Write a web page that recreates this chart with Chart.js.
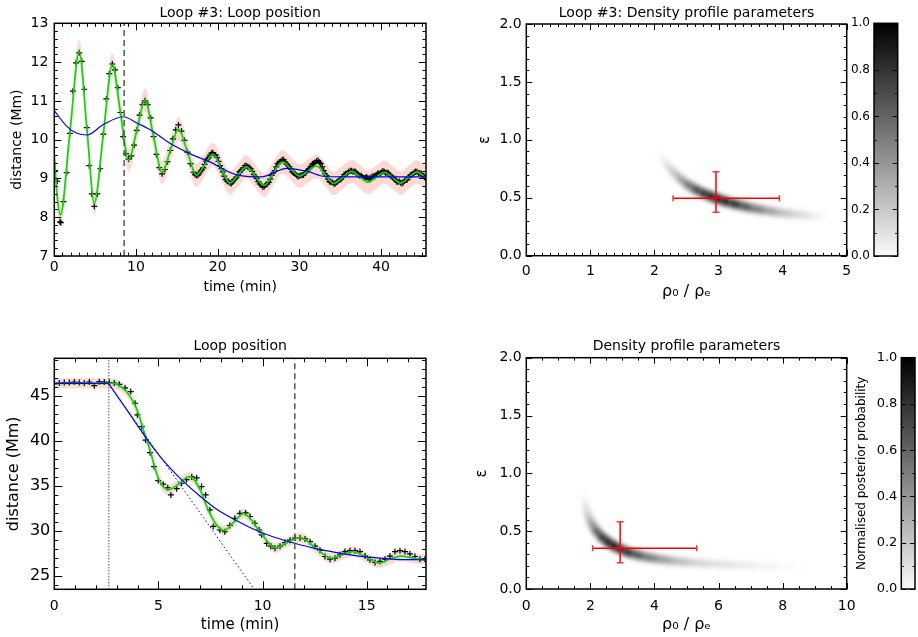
<!DOCTYPE html>
<html>
<head>
<meta charset="utf-8">
<script src="https://cdn.jsdelivr.net/npm/chart.js@4.4.0/dist/chart.umd.min.js"></script>
<style>
  body { margin: 0; background: #fff; width: 918px; height: 637px; position: relative; overflow: hidden; }
  canvas { position: absolute; }
</style>
</head>
<body>
<canvas id="c1" width="459" height="318" style="left:0;top:0"></canvas>
<canvas id="c2" width="459" height="318" style="left:459px;top:0"></canvas>
<canvas id="c3" width="459" height="319" style="left:0;top:318px"></canvas>
<canvas id="c4" width="459" height="319" style="left:459px;top:318px"></canvas>
<canvas id="cb1" width="88" height="318" style="left:830px;top:0"></canvas>
<canvas id="cb2" width="88" height="319" style="left:830px;top:318px"></canvas>
<script>
// ---- Loop #3 position (top left) ----
const loopT1 = [0.1,0.35,0.7,0.8, 1.13,1.52,1.9,2.28,2.67, 3.05,3.36,3.67,3.98,4.28,4.59, 4.9,5.27,5.63,6.0,6.37,6.73,
  7.1,7.43,7.77,8.1,8.43,8.77, 9.1,9.43,9.77,10.1,10.43,10.77, 11.1,11.45,11.8,12.15,12.5,12.85, 13.2,13.53,13.87,14.2,14.53,14.87,
  15.2,15.57,15.93,16.3,16.67,17.03, 17.4,17.73,18.07,18.4,18.73,19.07, 19.4,19.75,20.1,20.45,20.8,21.15, 21.5,21.83,22.17,22.5,22.83,23.17,
  23.5,23.87,24.23,24.6,24.97,25.33, 25.7,26.07,26.43,26.8,27.17,27.53, 27.9,28.25,28.6,28.95,29.3,29.65, 30.0,30.35,30.7,31.05,31.4,31.75,
  32.1,32.45,32.8,33.15,33.5,33.85, 34.2,34.57,34.93,35.3,35.67,36.03, 36.4,36.73,37.07,37.4,37.73,38.07, 38.4,38.73,39.07,39.4,39.73,40.07,
  40.4,40.73,41.07,41.4,41.73,42.07, 42.4,42.73,43.07,43.4,43.73,44.07, 44.4,44.77,45.13,45.45];
const loopD1 = [9.2,8.93,7.88,7.86, 8.4,9.15,10.16,11.25,11.98, 12.24,12.02,11.3,10.31,9.33,8.6, 8.28,8.6,9.25,10.14,11.05,11.7,
  11.95,11.8,11.34,10.7,10.08,9.64, 9.5,9.58,9.86,10.24,10.63,10.9, 11.0,10.9,10.56,10.08,9.62,9.28, 9.12,9.23,9.43,9.72,10.02,10.25,
  10.38,10.22,9.98,9.68,9.38,9.16, 9.08,9.12,9.22,9.36,9.5,9.6, 9.66,9.6,9.44,9.25,9.06,8.93, 8.88,8.91,8.99,9.1,9.2,9.28,
  9.33,9.28,9.18,9.05,8.92,8.83, 8.79,8.86,8.98,9.14,9.3,9.42, 9.48,9.43,9.34,9.24,9.14,9.08, 9.06,9.08,9.14,9.22,9.31,9.39,
  9.45,9.42,9.3,9.12,8.98,8.9, 8.87,8.9,8.96,9.04,9.12,9.17, 9.2,9.18,9.13,9.07,9.04,9.02, 9.01,9.02,9.05,9.09,9.13,9.16,
  9.17,9.15,9.1,9.03,8.96,8.91, 8.89,8.9,8.96,9.03,9.1,9.15, 9.17,9.14,9.07,9.01];
// denser sampling of the late, small-amplitude part
const loopT1b = [17.22,17.57,17.9,18.24,18.57,18.9,19.24,19.58,19.93,20.28,20.63,20.98,21.33,21.67,22.0,22.33,22.67,23.0,23.33,23.68,
  24.05,24.42,24.78,25.15,25.52,25.88,26.25,26.62,26.98,27.35,27.72,28.08,28.42,28.78,29.12,29.48,29.82,30.18,30.52,30.88,
  31.22,31.58,31.92,32.28,32.62,32.98,33.32,33.68,34.02,34.38,34.75,35.12,35.48,35.85,36.22,36.57,36.9,37.23,37.57,37.9,
  38.23,38.57,38.9,39.23,39.57,39.9,40.23,40.57,40.9,41.23,41.57,41.9,42.23,42.57,42.9,43.23,43.57,43.9,44.23,44.58,44.95,45.3];
const loopD1b = [9.1,9.08,9.19,9.27,9.45,9.53,9.65,9.61,9.54,9.33,9.17,8.97,8.92,8.87,8.97,9.03,9.17,9.22,9.33,9.3,
  9.25,9.1,9.0,8.86,8.78,8.84,8.9,9.08,9.2,9.38,9.44,9.48,9.37,9.3,9.17,9.12,9.05,9.08,9.09,9.19,
  9.25,9.37,9.41,9.46,9.38,9.2,9.07,8.92,8.9,8.86,8.94,8.98,9.1,9.13,9.2,9.17,9.17,9.09,9.07,9.01,
  9.04,8.99,9.05,9.05,9.13,9.13,9.19,9.14,9.14,9.05,9.01,8.92,8.92,8.87,8.95,8.97,9.08,9.11,9.18,9.14,9.12,9.03];
const fitT1 = [0,0.35,0.75,1.9,3.05,3.98,4.9,6.0,7.1,8.1,9.1,10.1,11.1,12.15,13.2,14.2,15.2,16.3,17.4,18.4,19.4,20.45,21.5,22.5,
  23.5,24.6,25.7,26.8,27.9,28.95,30.0,31.05,32.1,33.15,34.2,35.3,36.4,37.4,38.4,39.4,40.4,41.4,42.4,43.4,44.4,45.5];
const fitD1 = [9.6,8.55,8.06,10.16,12.27,10.31,8.36,10.14,11.93,10.7,9.47,10.24,11.02,10.08,9.15,9.72,10.28,9.68,9.08,9.35,9.62,9.25,8.88,9.09,
  9.3,9.06,8.82,9.13,9.43,9.25,9.06,9.19,9.32,9.1,8.87,9.03,9.18,9.04,8.9,9.03,9.16,9.02,8.88,9.03,9.17,9.0];
const bandHalf1 = 0.3;
const trendT1 = [0,1.5,2.7,4.0,6.0,8.45,10.1,11.7,14.2,16.6,19.1,22.2,25.3,28.5,31.0,33.1,36.0,45.5];
const trendD1 = [10.75,10.35,10.17,10.12,10.39,10.59,10.43,10.26,9.9,9.64,9.42,9.1,9.04,9.26,9.18,9.05,9.04,9.04];
const cutT1 = [8.55, 8.55];
const cutD1 = [7, 13];

// ---- Loop position (bottom left) ----
const loopT3 = [0.0,0.24,0.48,0.72,0.96,1.2,1.44,1.68,1.92,2.16,2.4,2.64,2.88,3.12,3.4,3.67,3.88,3.99,4.2,4.38,4.6,4.79,4.99,5.23,5.45,
  5.6,5.88,6.11,6.35,6.6,6.84,7.07,7.27,7.47,7.63,7.95,8.19,8.43,8.67,8.91,9.19,9.4,9.63,9.84,9.96,10.2,10.4,10.6,10.84,11.08,
  11.32,11.56,11.8,12.04,12.28,12.52,12.76,13.0,13.24,13.48,13.72,13.96,14.2,14.44,14.68,14.92,15.16,15.4,15.64,15.88,16.12,16.36,
  16.6,16.84,17.08,17.32,17.56,17.8];
const loopD3 = [46.35,46.45,46.5,46.5,46.55,46.5,46.45,46.55,46.15,46.6,46.55,46.5,46.45,46.3,45.9,45.5,44.2,42.9,41.6,40.1,38.7,37.15,35.6,35.2,34.8,
  34.0,34.7,35.3,35.7,36.0,35.9,34.93,34.0,32.33,30.5,30.1,29.9,30.6,31.4,31.95,32.0,31.6,30.85,30.1,29.56,28.6,28.3,28.07,28.3,28.7,
  28.96,29.2,29.2,29.1,28.8,28.3,27.85,27.15,26.85,26.96,27.33,27.7,27.8,27.8,27.7,27.2,26.78,26.48,26.6,26.85,27.2,27.7,
  27.8,27.7,27.45,27.15,26.85,26.85];
const fitT3 = [0,1.5,2.8,3.0,3.47,3.95,4.35,4.6,4.83,5.07,5.47,5.9,6.5,7.0,7.39,7.79,8.15,8.62,9.1,9.85,10.6,11.2,11.8,12.55,13.3,13.8,
  14.35,14.95,15.6,16.1,16.65,17.25,17.85];
const fitD3 = [46.4,46.42,46.4,46.3,45.5,43.6,40.7,39.0,37.0,35.5,34.55,35.1,36.05,34.6,32.33,30.67,30.05,30.98,31.92,30.0,28.1,28.75,29.25,28.1,26.95,27.35,
  27.7,27.1,26.42,26.85,27.2,26.95,26.78];
const bandHalf3 = 0.55;
const flatT3 = [0, 2.6];
const flatD3 = [46.4, 46.4];
const trendT3 = [2.6,3.5,4.3,4.8,5.4,6.2,7.0,7.8,8.9,9.6,10.5,11.5,12.5,13.5,14.3,15.1,16.4,17.85];
const trendD3 = [46.4,43.4,40.7,39.1,37.4,35.5,33.85,32.4,30.95,30.15,29.35,28.65,28.05,27.6,27.3,27.07,26.84,26.78];
const slopeT3 = [2.6, 9.6];
const slopeD3 = [46.4, 23.5];
const startT3 = [2.62, 2.62];
const cutT3 = [11.55, 11.55];
const spanD3 = [23.5, 49.2];

// ---- Density profile parameters (right) ----
const arcRho1 = [2.06,2.15,2.24,2.35,2.45,2.58,2.71,2.82,2.92,3.05,3.18,3.36,3.54,3.75,3.96,4.22,4.48,4.72];
const arcEps1 = [0.9,0.825,0.754,0.694,0.639,0.593,0.552,0.526,0.504,0.479,0.457,0.432,0.409,0.389,0.371,0.356,0.343,0.33];
const arcW1 = [0,0.05,0.12,0.22,0.35,0.55,0.75,0.9,1.0,0.95,0.85,0.68,0.5,0.35,0.22,0.13,0.06,0];
const errRho1 = [2.29, 2.96, 3.95];
const errEps1 = [0.375, 0.495, 0.725];
const arcRho2 = [1.73,1.8,1.88,1.97,2.09,2.26,2.46,2.63,2.82,3.05,3.34,3.7,4.17,4.65,5.21,5.85,6.57,7.3,8.0,8.75];
const arcEps2 = [0.856,0.765,0.683,0.607,0.539,0.476,0.424,0.389,0.36,0.33,0.303,0.279,0.257,0.241,0.227,0.216,0.207,0.2,0.195,0.19];
const arcW2 = [0,0.04,0.1,0.22,0.4,0.65,0.88,0.97,1.0,0.88,0.7,0.5,0.35,0.24,0.15,0.1,0.07,0.04,0.02,0];
const errRho2 = [2.07, 2.93, 5.32];
const errEps2 = [0.227, 0.352, 0.582];
const cbRange = [0, 1];

const pts = (xs, ys) => xs.map((x, i) => ({x, y: ys[i]}));

Chart.defaults.font.family = 'DejaVu Sans';
Chart.defaults.color = '#000';

// IDL style box with inward ticks on all four sides
const idlAxes = {
  id: 'idlAxes',
  afterDatasetsDraw(chart, args, o) {
    const {ctx, chartArea: a} = chart;
    ctx.save();
    ctx.strokeStyle = '#000';
    ctx.lineWidth = 1;
    ['x', 'y'].forEach(id => {
      const t = o[id];
      if (!t) return;
      const s = chart.scales[id];
      const k0 = Math.ceil(s.min / t.minor - 1e-6), k1 = Math.floor(s.max / t.minor + 1e-6);
      for (let k = k0; k <= k1; k++) {
        const v = k * t.minor;
        const r = v / t.major;
        const len = Math.abs(r - Math.round(r)) < 1e-6 ? t.len : t.len / 2;
        const p = Math.round(s.getPixelForValue(v)) + 0.5;
        ctx.beginPath();
        if (id === 'x') {
          ctx.moveTo(p, a.bottom); ctx.lineTo(p, a.bottom - len);
          ctx.moveTo(p, a.top); ctx.lineTo(p, a.top + len);
        } else {
          ctx.moveTo(a.left, p); ctx.lineTo(a.left + len, p);
          ctx.moveTo(a.right, p); ctx.lineTo(a.right - len, p);
        }
        ctx.stroke();
      }
    });
    ctx.lineWidth = 1.5;
    ctx.strokeRect(a.left, a.top, a.right - a.left, a.bottom - a.top);
    ctx.restore();
  }
};

// blurred posterior ridge, each piece shaded along its own direction
const heatArc = {
  id: 'heatArc',
  beforeDatasetsDraw(chart, args, o) {
    if (!o.rho) return;
    const {ctx, chartArea: a} = chart;
    const sx = chart.scales.x, sy = chart.scales.y;
    const px = o.rho.map(v => sx.getPixelForValue(v));
    const py = o.eps.map(v => sy.getPixelForValue(v));
    ctx.save();
    ctx.beginPath();
    ctx.rect(a.left, a.top, a.right - a.left, a.bottom - a.top);
    ctx.clip();
    ctx.filter = 'blur(' + o.blur + 'px)';
    ctx.lineCap = 'butt';
    [[1, 0.55], [0.45, 0.95]].forEach(([wf, af]) => {
      for (let i = 0; i < px.length - 1; i++) {
        const g = ctx.createLinearGradient(px[i], py[i], px[i + 1], py[i + 1]);
        g.addColorStop(0, 'rgba(0,0,0,' + Math.min(1, o.w[i] * af) + ')');
        g.addColorStop(1, 'rgba(0,0,0,' + Math.min(1, o.w[i + 1] * af) + ')');
        ctx.beginPath();
        ctx.moveTo(px[i], py[i]);
        ctx.lineTo(px[i + 1], py[i + 1]);
        ctx.lineWidth = o.width * wf;
        ctx.strokeStyle = g;
        ctx.stroke();
      }
    });
    ctx.restore();
  }
};

Chart.register(idlAxes, heatArc);

function axis(o) {
  return {
    type: 'linear', min: o.min, max: o.max,
    grid: {display: false, drawTicks: false},
    border: {display: false},
    ticks: {
      stepSize: o.step, includeBounds: false, autoSkip: false, maxRotation: 0,
      padding: o.pad, color: '#000', font: {size: o.size},
      callback: o.fmt || (v => String(v))
    },
    title: o.title ? {display: true, text: o.title, color: '#000', font: {size: o.tsize}, padding: o.tpad} : {display: false},
    afterFit(s) {
      if (o.w != null) s.width = o.w;
      if (o.h != null) s.height = o.h;
    }
  };
}

function options(o) {
  return {
    responsive: false, animation: false, devicePixelRatio: 1,
    layout: {padding: {left: 0, top: o.top || 0, right: o.right, bottom: o.bottom || 0}},
    plugins: {
      legend: {display: false},
      tooltip: {enabled: false},
      title: o.title ? {display: true, text: o.title, fullSize: false, color: '#000',
        font: {size: 14, weight: 'normal'}, padding: o.titlePad} : {display: false},
      idlAxes: o.ticks,
      heatArc: o.arc || {}
    },
    scales: {x: o.x, y: o.y}
  };
}

// error band = fit +/- half width, filled between the two edges
const band = (xs, ys, half) => [
  {data: pts(xs, ys.map(v => v - half)), borderWidth: 0, pointRadius: 0,
   cubicInterpolationMode: 'monotone', clip: 0, order: 6},
  {data: pts(xs, ys.map(v => v + half)), borderWidth: 0, pointRadius: 0, fill: '-1',
   backgroundColor: '#fdd9d3', cubicInterpolationMode: 'monotone', clip: 0, order: 5}
];
const crosses = data => ({data, showLine: false, pointStyle: 'cross', pointRadius: 3,
  pointBorderColor: '#000', pointBorderWidth: 1.2, clip: 0, order: 4});
const green = data => ({data, borderColor: '#00e000', borderWidth: 1.7, pointRadius: 0,
  cubicInterpolationMode: 'monotone', clip: 0, order: 3});
const blue = (data, dash) => ({data, borderColor: '#0000ff', borderWidth: dash ? 1 : 1.2, borderDash: dash || [],
  pointRadius: 0, cubicInterpolationMode: 'monotone', clip: 0, order: 2});
const vline = (data, color, dash, w) => ({data, borderColor: color, borderWidth: w, borderDash: dash,
  pointRadius: 0, clip: 0, order: 1});

new Chart(document.getElementById('c1'), {
  type: 'line',
  data: {datasets: [
    ...band(fitT1, fitD1, bandHalf1),
    crosses(pts(loopT1, loopD1)),
    crosses(pts(loopT1b, loopD1b)),
    green(pts(fitT1, fitD1)),
    blue(pts(trendT1, trendD1)),
    vline(pts(cutT1, cutD1), '#555', [6, 4], 1.5)
  ]},
  options: options({
    right: 33, title: 'Loop #3: Loop position', titlePad: {top: 4.6, bottom: 1.9},
    x: axis({min: 0, max: 45.5, step: 10, pad: 2.6, size: 14, title: 'time (min)', tsize: 14, tpad: {bottom: 22.6}, h: 62}),
    y: axis({min: 7, max: 13, step: 1, pad: 6, size: 14, title: 'distance (Mm)', tsize: 14, tpad: {top: 8.6}, w: 54.3}),
    ticks: {x: {major: 10, minor: 1, len: 7}, y: {major: 1, minor: 0.2, len: 7}}
  })
});

new Chart(document.getElementById('c3'), {
  type: 'line',
  data: {datasets: [
    ...band(fitT3, fitD3, bandHalf3),
    crosses(pts(loopT3, loopD3)),
    green(pts(fitT3, fitD3)),
    blue(pts(flatT3, flatD3)),
    blue(pts(trendT3, trendD3)),
    blue(pts(slopeT3, slopeD3), [1.5, 2.5]),
    vline(pts(startT3, spanD3), '#000', [1, 2], 1),
    vline(pts(cutT3, spanD3), '#555', [6, 4], 1.5)
  ]},
  options: options({
    right: 33, title: 'Loop position', titlePad: {top: 19.6, bottom: 3.9},
    x: axis({min: 0, max: 17.85, step: 5, pad: 9, size: 14, title: 'time (min)', tsize: 15, tpad: {bottom: 3}, h: 47.7}),
    y: axis({min: 23.5, max: 49.2, step: 5, pad: 4, size: 16, title: 'distance (Mm)', tsize: 16, tpad: {top: 4.4}, w: 54.3}),
    ticks: {x: {major: 5, minor: 1, len: 8}, y: {major: 5, minor: 1, len: 8}}
  })
});

const errBars = (rho, eps) => [
  {data: pts([rho[0], rho[2]], [eps[1], eps[1]]), borderColor: '#ff0000', borderWidth: 1.5,
   pointStyle: 'line', pointRotation: 90, pointRadius: 3, pointBorderColor: '#ff3030', pointBorderWidth: 1.5, clip: 0},
  {data: pts([rho[1], rho[1]], [eps[0], eps[2]]), borderColor: '#ff0000', borderWidth: 1.5,
   pointStyle: 'line', pointRotation: 0, pointRadius: 3.5, pointBorderColor: '#ff3030', pointBorderWidth: 1.5, clip: 0}
];
const rhoLabel = 'ρ\u2080 / ρ\u2091';

new Chart(document.getElementById('c2'), {
  type: 'line',
  data: {datasets: errBars(errRho1, errEps1)},
  options: options({
    right: 71.3, title: 'Loop #3: Density profile parameters', titlePad: {top: 4.6, bottom: 2.6},
    x: axis({min: 0, max: 5, step: 1, pad: 6.9, size: 14, title: rhoLabel, tsize: 16, tpad: {bottom: 16.7}, h: 62.3}),
    y: axis({min: 0, max: 2, step: 0.5, pad: 4.6, size: 14, fmt: v => v.toFixed(1), title: 'ε', tsize: 15, tpad: {top: 17}, w: 67.3}),
    ticks: {x: {major: 1, minor: 0.125, len: 6}, y: {major: 0.5, minor: 0.1, len: 6}},
    arc: {rho: arcRho1, eps: arcEps1, w: arcW1, width: 11, blur: 2}
  })
});

new Chart(document.getElementById('c4'), {
  type: 'line',
  data: {datasets: errBars(errRho2, errEps2)},
  options: options({
    right: 71.3, title: 'Density profile parameters', titlePad: {top: 19.6, bottom: 3.3},
    x: axis({min: 0, max: 10, step: 2, pad: 8.6, size: 14, title: rhoLabel, tsize: 16, tpad: {bottom: 2.4}, h: 48}),
    y: axis({min: 0, max: 2, step: 0.5, pad: 4.6, size: 14, fmt: v => v.toFixed(1), title: 'ε', tsize: 15, tpad: {top: 13.7}, w: 67.3}),
    ticks: {x: {major: 2, minor: 0.5, len: 6}, y: {major: 0.5, minor: 0.1, len: 6}},
    arc: {rho: arcRho2, eps: arcEps2, w: arcW2, width: 11, blur: 2}
  })
});

function colorBar(id, o) {
  new Chart(document.getElementById(id), {
    type: 'bar',
    data: {labels: [''], datasets: [{
      data: [cbRange], borderWidth: 0, categoryPercentage: 1, barPercentage: 1,
      backgroundColor: c => {
        const a = c.chart.chartArea;
        if (!a) return '#888';
        const g = c.chart.ctx.createLinearGradient(0, a.bottom, 0, a.top);
        g.addColorStop(0, '#fafafa');
        g.addColorStop(1, '#000');
        return g;
      }
    }]},
    options: options({
      top: o.top, bottom: o.bottom, right: o.right,
      x: {type: 'category', display: false},
      y: axis({min: 0, max: 1, step: 0.2, pad: 4, size: o.size, fmt: v => v.toFixed(1),
        title: o.title, tsize: 12, tpad: {top: 24.5}, w: o.w}),
      ticks: {y: {major: 0.2, minor: 0.1, len: 5}}
    })
  });
}
colorBar('cb1', {top: 23.3, bottom: 62, right: 20.3, w: 44, size: 12});
colorBar('cb2', {top: 39.7, bottom: 48, right: 3, w: 71.3, size: 13, title: 'Normalised posterior probability'});
</script>
</body>
</html>
